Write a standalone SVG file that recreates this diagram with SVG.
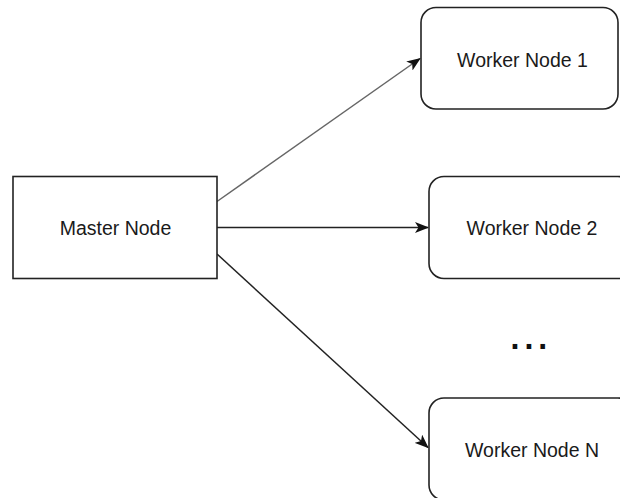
<svg xmlns="http://www.w3.org/2000/svg" width="620" height="498" viewBox="0 0 620 498">
  <style>
    .box { fill: #ffffff; stroke: #222222; stroke-width: 1.6; }
    .label { font-family: "Liberation Sans", Arial, sans-serif; font-size: 19.5px; fill: #1a1a1a; text-anchor: middle; }
    .edge { fill: none; stroke: #222222; stroke-width: 1.5; marker-end: url(#arrow); }
    .dots { font-family: "DejaVu Sans", sans-serif; font-size: 26px; font-weight: bold; fill: #111111; letter-spacing: 4px; }
  </style>
  <defs>
    <!-- classic filled arrowhead with a notched back -->
    <marker id="arrow" viewBox="0 0 14 11" refX="13" refY="5.5" markerWidth="14" markerHeight="11" markerUnits="userSpaceOnUse" orient="auto">
      <path d="M0,0 L14,5.5 L0,11 L3.5,5.5 Z" fill="#111111"/>
    </marker>
  </defs>
  <rect width="620" height="498" fill="#ffffff"/>

  <g id="connectors">
    <line class="edge" x1="217" y1="201.5" x2="420" y2="58.5" style="stroke:#666666"/>
    <line class="edge" x1="217" y1="227.5" x2="428" y2="227.5"/>
    <line class="edge" x1="217" y1="254" x2="428" y2="447.5"/>
  </g>

  <g id="master-node">
    <rect class="box" x="13" y="176.5" width="204" height="102"/>
    <text class="label" x="115.5" y="235">Master Node</text>
  </g>

  <g id="worker-node-1">
    <rect class="box" x="421" y="7.5" width="197" height="101.5" rx="15" ry="15"/>
    <text class="label" x="522.5" y="66.5">Worker Node 1</text>
  </g>

  <g id="worker-node-2">
    <rect class="box" x="429" y="176.5" width="204" height="102" rx="15" ry="15"/>
    <text class="label" x="532" y="235">Worker Node 2</text>
  </g>

  <g id="ellipsis">
    <text class="dots" x="510" y="349">...</text>
  </g>

  <g id="worker-node-n">
    <rect class="box" x="429" y="398" width="204" height="102" rx="15" ry="15"/>
    <text class="label" x="532" y="456.5">Worker Node N</text>
  </g>
</svg>
